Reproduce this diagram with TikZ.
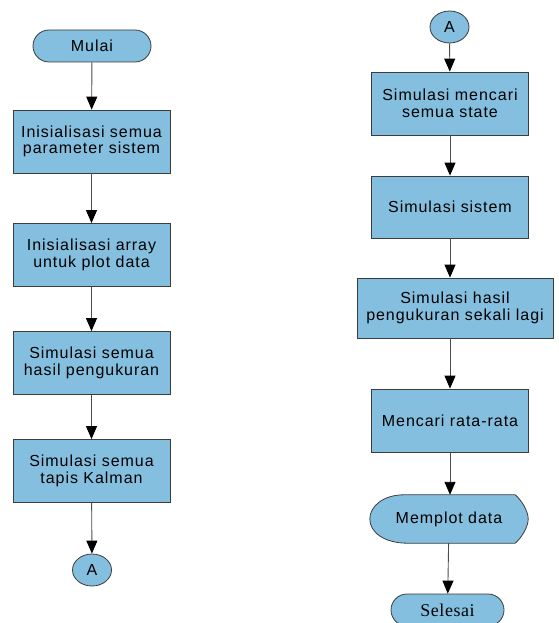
\documentclass[tikz,border=0pt]{standalone}
\usepackage{fontspec}
\setmainfont{Liberation Sans}[LetterSpace=6]
\newfontfamily\selfont{Liberation Serif}[LetterSpace=3]
\usetikzlibrary{arrows.meta}
\usetikzlibrary{shapes.misc}
\usetikzlibrary{shapes.geometric}

\definecolor{kotak}{RGB}{133,191,224}
\definecolor{garis}{RGB}{60,60,60}

\tikzset{
  proses/.style={draw=garis,fill=kotak,line width=0.8pt,minimum width=157pt,minimum height=63pt,
    align=center,inner sep=0pt,font=\fontsize{16}{16.5}\selectfont},
  terminal/.style={draw=garis,fill=kotak,line width=0.8pt,rounded rectangle,minimum width=118pt,
    minimum height=32pt,inner sep=0pt,font=\fontsize{16}{16.5}\selectfont},
  konektor/.style={draw=garis,fill=kotak,line width=0.8pt,ellipse,minimum width=39pt,
    minimum height=32pt,inner sep=0pt,font=\fontsize{16}{16.5}\selectfont},
  panah/.style={draw=gray!60!black,line width=0.9pt,-{Triangle[length=13pt,width=11pt,color=black]}}
}

\begin{document}
\begin{tikzpicture}[x=1pt,y=-1pt]
  \useasboundingbox (0,0) rectangle (558,623);
  % kolom kiri
  \node[terminal] (mulai) at (92,46) {Mulai};
  \node[proses] (init) at (91.5,141.5) {Inisialisasi semua\\parameter sistem};
  \node[proses] (arr) at (91.5,255) {Inisialisasi array\\untuk plot data};
  \node[proses] (ukur) at (91.5,363) {Simulasi semua\\hasil pengukuran};
  \node[proses] (kalman) at (91.5,471) {Simulasi semua\\tapis Kalman};
  \node[konektor] (a1) at (92,570) {A};

  \draw[panah] (mulai) -- (init);
  \draw[panah] (init) -- (arr);
  \draw[panah] (arr) -- (ukur);
  \draw[panah] (ukur) -- (kalman);
  \draw[panah] (kalman) -- (a1);

  % kolom kanan
  \node[konektor] (a2) at (449.5,27) {A};
  \node[proses] (state) at (450,103.5) {Simulasi mencari\\semua state};
  \node[proses,minimum height=62pt] (sistem) at (450,207) {Simulasi sistem};
  \node[proses,minimum width=196pt,minimum height=60pt] (lagi) at (455,308) {Simulasi hasil\\pengukuran sekali lagi};
  \node[proses] (rata) at (450,420.5) {Mencari rata-rata};
  \node[minimum width=158pt,minimum height=48pt,inner sep=0pt] (plot) at (449,519) {};
  \node[terminal,minimum width=113pt,font=\selfont\fontsize{18}{20}\selectfont] (selesai) at (447.5,610) {Selesai};

  % bentuk display
  \path[draw=garis,fill=kotak,line width=0.8pt]
    ([xshift=34pt]plot.north west) -- ([xshift=-13pt]plot.north east)
    .. controls ([xshift=-7pt,yshift=-5pt]plot.north east) and ([yshift=8pt]plot.east) .. (plot.east)
    .. controls ([yshift=-8pt]plot.east) and ([xshift=-7pt,yshift=5pt]plot.south east) .. ([xshift=-13pt]plot.south east)
    -- ([xshift=38pt]plot.south west)
    .. controls ([xshift=14pt]plot.south west) and ([yshift=-13pt]plot.west) .. (plot.west)
    .. controls ([yshift=13pt]plot.west) and ([xshift=14pt]plot.north west) .. ([xshift=34pt]plot.north west);
  \node[font=\fontsize{16}{16.5}\selectfont] (plottext) at (plot) {Memplot data};

  \draw[panah] (a2) -- (state);
  \draw[panah] (state) -- (sistem);
  \draw[panah] (sistem) -- (sistem |- lagi.north);
  \draw[panah] (sistem |- lagi.south) -- (rata);
  \draw[panah] (rata) -- (rata |- plot.north);
  \draw[panah] (plot) -- (selesai);
\end{tikzpicture}
\end{document}
